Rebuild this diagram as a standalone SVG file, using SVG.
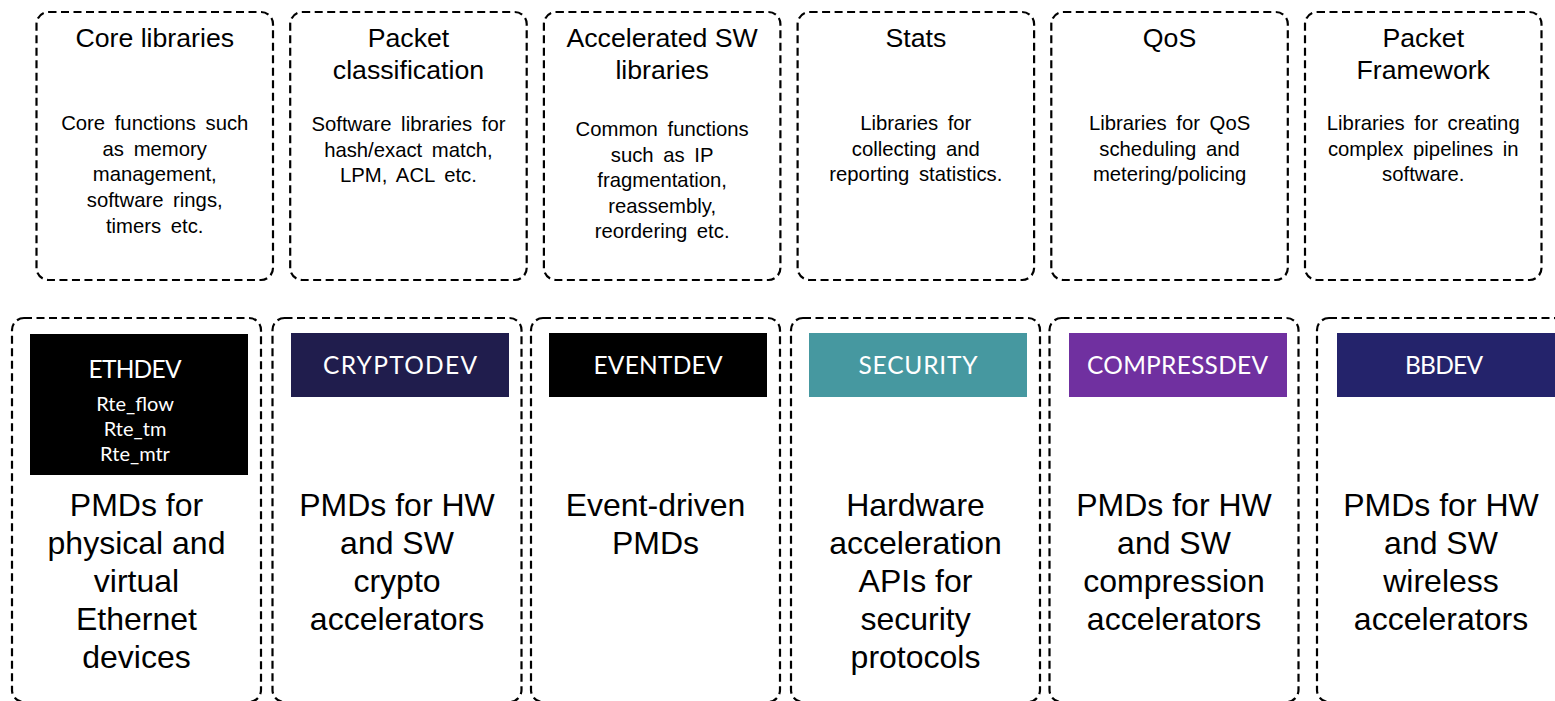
<svg xmlns="http://www.w3.org/2000/svg" width="1555" height="701" viewBox="0 0 1555 701">
<style>
.box{fill:none;stroke:#000;stroke-width:2.2;stroke-dasharray:8 4.5}
.title{font-family:"Liberation Sans",Arial,sans-serif;font-size:26.7px;fill:#000;text-anchor:middle}
.desc{font-family:"Liberation Sans",Arial,sans-serif;font-size:20.3px;word-spacing:4px;fill:#000;text-anchor:middle}
.body{font-family:"Liberation Sans",Arial,sans-serif;font-size:32px;fill:#000;text-anchor:middle}
.hdr{font-family:Lato,"Open Sans",sans-serif;font-size:24.5px;fill:#fff;text-anchor:middle}
.sub{font-family:Lato,"Open Sans",sans-serif;font-size:20px;fill:#fff;text-anchor:middle}
</style>
<rect width="1555" height="701" fill="#fff"/>
<g id="core-libraries">
<rect class="box" x="36.5" y="12" width="236.5" height="268" rx="12"/>
<text class="title" x="154.75" y="47">Core libraries</text>
<text class="desc" x="154.75" y="130">Core functions such</text>
<text class="desc" x="154.75" y="156">as memory</text>
<text class="desc" x="154.75" y="181">management,</text>
<text class="desc" x="154.75" y="207">software rings,</text>
<text class="desc" x="154.75" y="233">timers etc.</text>
</g>
<g id="packet-classification">
<rect class="box" x="290.2" y="12" width="236.5" height="268" rx="12"/>
<text class="title" x="408.45" y="47">Packet</text>
<text class="title" x="408.45" y="79">classification</text>
<text class="desc" x="408.45" y="131">Software libraries for</text>
<text class="desc" x="408.45" y="157">hash/exact match,</text>
<text class="desc" x="408.45" y="182">LPM, ACL etc.</text>
</g>
<g id="accelerated-sw">
<rect class="box" x="543.9" y="12" width="236.5" height="268" rx="12"/>
<text class="title" x="662.15" y="47">Accelerated SW</text>
<text class="title" x="662.15" y="79">libraries</text>
<text class="desc" x="662.15" y="136">Common functions</text>
<text class="desc" x="662.15" y="162">such as IP</text>
<text class="desc" x="662.15" y="187">fragmentation,</text>
<text class="desc" x="662.15" y="213">reassembly,</text>
<text class="desc" x="662.15" y="238">reordering etc.</text>
</g>
<g id="stats">
<rect class="box" x="797.6" y="12" width="236.5" height="268" rx="12"/>
<text class="title" x="915.85" y="47">Stats</text>
<text class="desc" x="915.85" y="130">Libraries for</text>
<text class="desc" x="915.85" y="156">collecting and</text>
<text class="desc" x="915.85" y="181">reporting statistics.</text>
</g>
<g id="qos">
<rect class="box" x="1051.3" y="12" width="236.5" height="268" rx="12"/>
<text class="title" x="1169.55" y="47">QoS</text>
<text class="desc" x="1169.55" y="130">Libraries for QoS</text>
<text class="desc" x="1169.55" y="156">scheduling and</text>
<text class="desc" x="1169.55" y="181">metering/policing</text>
</g>
<g id="packet-framework">
<rect class="box" x="1305" y="12" width="236.5" height="268" rx="12"/>
<text class="title" x="1423.25" y="47">Packet</text>
<text class="title" x="1423.25" y="79">Framework</text>
<text class="desc" x="1423.25" y="130">Libraries for creating</text>
<text class="desc" x="1423.25" y="156">complex pipelines in</text>
<text class="desc" x="1423.25" y="181">software.</text>
</g>
<g id="ethdev">
<rect class="box" x="12" y="318" width="249" height="384" rx="12"/>
<rect x="30" y="334" width="218" height="141" fill="#000"/>
<text class="hdr" x="135" y="378" textLength="93" lengthAdjust="spacing">ETHDEV</text>
<text class="sub" x="135" y="411">Rte_flow</text>
<text class="sub" x="135" y="436">Rte_tm</text>
<text class="sub" x="135" y="461">Rte_mtr</text>
<text class="body" x="136.5" y="516">PMDs for</text>
<text class="body" x="136.5" y="554">physical and</text>
<text class="body" x="136.5" y="592">virtual</text>
<text class="body" x="136.5" y="630">Ethernet</text>
<text class="body" x="136.5" y="668">devices</text>
</g>
<g id="cryptodev">
<rect class="box" x="272.5" y="318" width="249" height="384" rx="12"/>
<rect x="291" y="333" width="218" height="64" fill="#201d4d"/>
<text class="hdr" x="400" y="374" textLength="154" lengthAdjust="spacing">CRYPTODEV</text>
<text class="body" x="397" y="516">PMDs for HW</text>
<text class="body" x="397" y="554">and SW</text>
<text class="body" x="397" y="592">crypto</text>
<text class="body" x="397" y="630">accelerators</text>
</g>
<g id="eventdev">
<rect class="box" x="531" y="318" width="249" height="384" rx="12"/>
<rect x="549" y="333" width="218" height="64" fill="#000"/>
<text class="hdr" x="658" y="374" textLength="129" lengthAdjust="spacing">EVENTDEV</text>
<text class="body" x="655.5" y="516">Event-driven</text>
<text class="body" x="655.5" y="554">PMDs</text>
</g>
<g id="security">
<rect class="box" x="791" y="318" width="249" height="384" rx="12"/>
<rect x="809" y="333" width="218" height="64" fill="#4698a0"/>
<text class="hdr" x="918" y="374" textLength="119" lengthAdjust="spacing">SECURITY</text>
<text class="body" x="915.5" y="516">Hardware</text>
<text class="body" x="915.5" y="554">acceleration</text>
<text class="body" x="915.5" y="592">APIs for</text>
<text class="body" x="915.5" y="630">security</text>
<text class="body" x="915.5" y="668">protocols</text>
</g>
<g id="compressdev">
<rect class="box" x="1049.5" y="318" width="249" height="384" rx="12"/>
<rect x="1069" y="333" width="218" height="64" fill="#7030a0"/>
<text class="hdr" x="1177.5" y="374" textLength="181" lengthAdjust="spacing">COMPRESSDEV</text>
<text class="body" x="1174" y="516">PMDs for HW</text>
<text class="body" x="1174" y="554">and SW</text>
<text class="body" x="1174" y="592">compression</text>
<text class="body" x="1174" y="630">accelerators</text>
</g>
<g id="bbdev">
<rect class="box" x="1317" y="318" width="249" height="384" rx="12"/>
<rect x="1337" y="333" width="218" height="64" fill="#24236b"/>
<text class="hdr" x="1444" y="374" textLength="78" lengthAdjust="spacing">BBDEV</text>
<text class="body" x="1441" y="516">PMDs for HW</text>
<text class="body" x="1441" y="554">and SW</text>
<text class="body" x="1441" y="592">wireless</text>
<text class="body" x="1441" y="630">accelerators</text>
</g>
<g id="connectors"></g>
</svg>
